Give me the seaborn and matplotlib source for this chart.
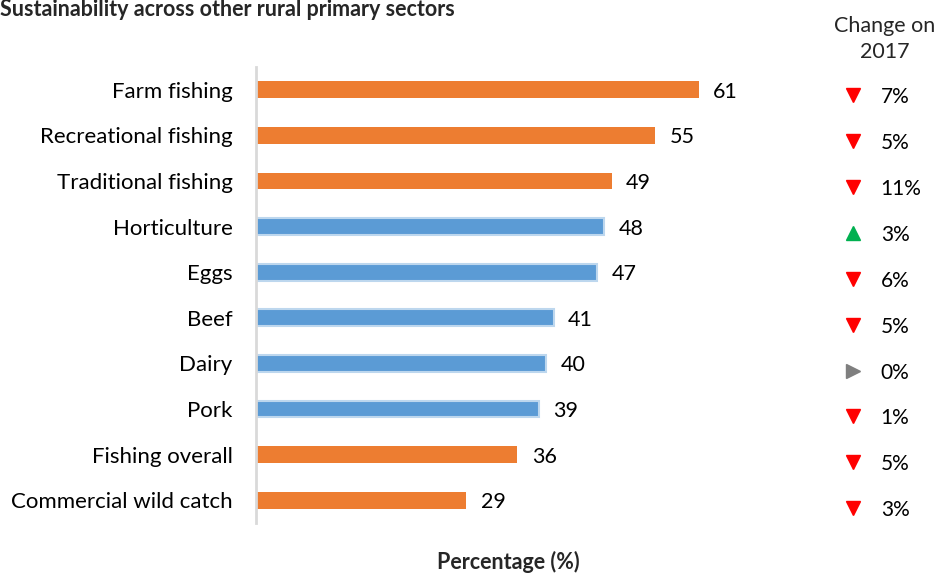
import matplotlib
matplotlib.use("Agg")
import matplotlib.pyplot as plt
import seaborn as sns
import pandas as pd

# Data
sectors = ["Farm fishing", "Recreational fishing", "Traditional fishing", "Horticulture",
           "Eggs", "Beef", "Dairy", "Pork", "Fishing overall", "Commercial wild catch"]
values = [61, 55, 49, 48, 47, 41, 40, 39, 36, 29]
groups = ["Fishing", "Fishing", "Fishing", "Farming", "Farming",
          "Farming", "Farming", "Farming", "Fishing", "Fishing"]
change_labels = ["7%", "5%", "11%", "3%", "6%", "5%", "0%", "1%", "5%", "3%"]
change_dirs = ["down", "down", "down", "up", "down", "down", "flat", "down", "down", "down"]

df = pd.DataFrame({"sector": sectors, "value": values, "group": groups})

sns.set_theme(style="white")
plt.rcParams["font.family"] = ["Lato", "DejaVu Sans"]

palette = {"Fishing": "#ED7D31", "Farming": "#5B9BD5"}
W, H = 938, 574
fig = plt.figure(figsize=(W / 100, H / 100), dpi=100)
ax = fig.add_axes([256 / W, (H - 523) / H, 508 / W, 456 / H])

sns.barplot(data=df, y="sector", x="value", hue="group", palette=palette,
            dodge=False, width=0.37, legend=False, ax=ax, order=sectors,
            saturation=1)

# Light outline on the farming bars
for p in ax.patches:
    fc = p.get_facecolor()
    if abs(fc[0] - 0x5B / 255) < 0.02 and abs(fc[2] - 0xD5 / 255) < 0.02:
        p.set_edgecolor("#BDD7EE")
        p.set_linewidth(1.5)
    else:
        p.set_linewidth(0)

ax.set_xlim(0, 70)
ax.set_ylim(9.5, -0.5)
ax.set_xticks([])
ax.set_ylabel("")
ax.set_xlabel("")
for s in ["top", "right", "bottom"]:
    ax.spines[s].set_visible(False)
ax.spines["left"].set_color("#D9D9D9")
ax.spines["left"].set_linewidth(2)
ax.tick_params(axis="y", length=0, pad=17, labelsize=16, colors="#000000")

# Value labels
for i, v in enumerate(values):
    ax.text(v + 2.0, i, f"{v}", va="center_baseline", ha="left", fontsize=15.5, color="#000000")

# Change column
marker_map = {"down": ("v", "#FF0000"), "up": ("^", "#00B050"), "flat": (">", "#7F7F7F")}
x_mark = (853 - 256) / 7.26
x_txt = (881 - 256) / 7.26
for i, (lab, d) in enumerate(zip(change_labels, change_dirs)):
    yy = i + 0.12 + 0.006 * i
    m, c = marker_map[d]
    ax.plot([x_mark], [yy], marker=m, color=c, markersize=10.5, clip_on=False, linestyle="none")
    ax.text(x_txt, yy, lab, va="center_baseline", ha="left", fontsize=15, color="#000000",
            clip_on=False)

fig.text(885 / W, 1 - 39 / H, "Change on\n2017", ha="center", va="center",
         fontsize=15.5, linespacing=1.35)
fig.text(0, 1 - 10 / H, "Sustainability across other rural primary sectors",
         ha="left", va="center", fontsize=15.5, fontweight="bold")
fig.text(508 / W, 1 - 562 / H, "Percentage (%)", ha="center", va="center",
         fontsize=15.5, fontweight="bold")

fig.savefig("out.png", dpi=100)
